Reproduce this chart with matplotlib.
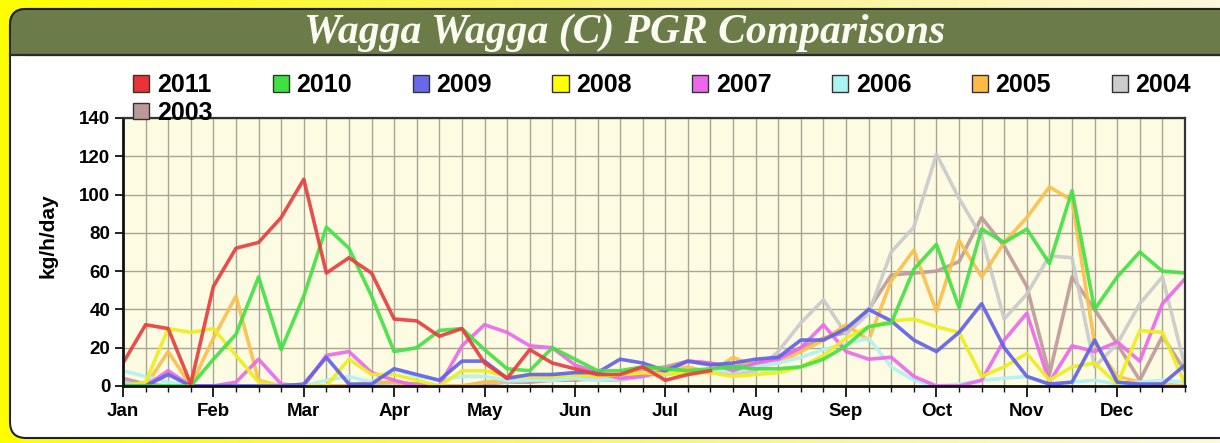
import matplotlib
matplotlib.use("Agg")
import matplotlib.pyplot as plt
from matplotlib.patches import FancyBboxPatch, Rectangle, Patch
from matplotlib.colors import LinearSegmentedColormap
import numpy as np

# === DATA ===
# 4 readings per month, Jan..Dec (48 points)
months = ["Jan", "Feb", "Mar", "Apr", "May", "Jun",
          "Jul", "Aug", "Sep", "Oct", "Nov", "Dec"]
years = ["2011", "2010", "2009", "2008", "2007", "2006", "2005", "2004", "2003"]

pgr_2011 = [12, 32, 30, 1, 52, 72, 75, 88, 108, 59, 67, 59,
            35, 34, 26, 30, 12, 4, 19, 12, 9, 6, 6, 10,
            3, 6, 8, None, None, None, None, None, None, None, None, None,
            None, None, None, None, None, None, None, None, None, None, None, None]
pgr_2010 = [0, 0, 0, 0, 14, 27, 57, 19, 47, 83, 72, 47,
            18, 20, 29, 30, 19, 9, 8, 20, 14, 8, 8, 10,
            9, 8, 9, 10, 9, 9, 10, 14, 21, 31, 33, 61,
            74, 41, 82, 75, 82, 64, 102, 40, 57, 70, 60, 59]
pgr_2009 = [0, 0, 6, 0, 0, 0, 0, 0, 1, 15, 1, 1,
            9, 6, 3, 13, 13, 4, 6, 6, 7, 7, 14, 12,
            8, 13, 11, 12, 14, 15, 24, 24, 30, 40, 34, 24,
            18, 28, 43, 20, 5, 1, 2, 24, 2, 1, 1, 11]
pgr_2008 = [0, 2, 30, 28, 30, 16, 2, 0, 0, 0, 14, 6,
            6, 3, 0, 8, 8, 5, 5, 5, 6, 5, 6, 7,
            6, 7, 7, 5, 6, 7, 10, 16, 25, 31, 34, 35,
            31, 28, 5, 10, 17, 3, 10, 12, 1, 29, 28, 1]
pgr_2007 = [0, 0, 8, 0, 0, 2, 14, 1, 0, 16, 18, 7,
            3, 0, 0, 21, 32, 28, 21, 20, 11, 7, 4, 5,
            8, 13, 12, 8, 12, 14, 20, 32, 18, 14, 15, 5,
            0, 0, 3, 24, 38, 2, 21, 18, 23, 13, 43, 56]
pgr_2006 = [8, 5, 2, 0, 0, 0, 0, 0, 0, 3, 5, 2,
            9, 5, 3, 5, 5, 3, 3, 3, 4, 3, 4, 5,
            6, 7, 8, 8, 10, 12, 15, 19, 22, 25, 10, 3,
            0, 1, 3, 4, 5, 1, 2, 3, 1, 2, 3, 2]
pgr_2005 = [0, 0, 18, 0, 25, 47, 3, 0, 0, 0, 0, 2,
            2, 0, 0, 0, 2, 3, 3, 3, 4, 5, 5, 6,
            8, 10, 7, 15, 10, 12, 18, 24, 32, 24, 55, 71,
            39, 76, 57, 75, 88, 104, 97, 22, 5, 2, 1, 0]
pgr_2004 = [2, 0, 0, 0, 0, 0, 0, 0, 0, 0, 0, 0,
            0, 0, 0, 0, 2, 2, 3, 4, 4, 3, 3, 5,
            6, 8, 7, 6, 8, 18, 33, 45, 27, 38, 70, 83,
            121, 98, 78, 35, 48, 68, 67, 10, 22, 43, 57, 10]
pgr_2003 = [4, 1, 0, 0, 0, 0, 0, 0, 0, 0, 0, 1,
            2, 1, 0, 0, 1, 2, 2, 3, 3, 4, 5, 8,
            10, 13, 12, 10, 12, 15, 20, 25, 28, 40, 58, 59,
            60, 65, 88, 73, 52, 6, 57, 40, 22, 3, 26, 8]

series = [pgr_2011, pgr_2010, pgr_2009, pgr_2008, pgr_2007,
          pgr_2006, pgr_2005, pgr_2004, pgr_2003]
line_colors = ["#e54040", "#44e044", "#6262e6", "#eded22", "#ea6aea",
               "#b2f2f2", "#f9c04c", "#cacaca", "#bf9a9a"]
box_colors = ["#e83434", "#40e040", "#6868e8", "#ffff00", "#ee66ee",
              "#aaf4f4", "#ffbb44", "#cccccc", "#bb9999"]

W, H = 1220, 443
fig = plt.figure(figsize=(W / 100, H / 100), dpi=100)

# === BACKGROUND / PANEL ===
bg = fig.add_axes([0, 0, 1, 1], zorder=0)
bg.set_xlim(0, W)
bg.set_ylim(H, 0)
bg.axis("off")
cmap = LinearSegmentedColormap.from_list("bgy", ["#ffff00", "#fbf27a", "#fdf9dc"])
bg.imshow(np.linspace(0, 1, 256)[None, :], cmap=cmap, extent=[0, W, H, 0], aspect="auto")

bg.add_patch(FancyBboxPatch((10, 9), 1260, 429, boxstyle="round,pad=0,rounding_size=16",
                            fc="white", ec="#222222", lw=1.5))
olive = "#6c7c48"
bg.add_patch(FancyBboxPatch((10, 9), 1260, 46, boxstyle="round,pad=0,rounding_size=16",
                            fc=olive, ec="#222222", lw=1.5))
bg.add_patch(Rectangle((11, 35), 1260, 20, fc=olive, ec="none"))
bg.plot([10, W], [55, 55], color="#2a2a2a", lw=1.6)
bg.text(625, 33, "Wagga Wagga (C) PGR Comparisons", color="#fbfbf2",
        family="Liberation Serif", weight="bold", style="italic",
        fontsize=30, ha="center", va="center")

# === PLOT ===
ax = fig.add_axes([123 / W, 1 - 386 / H, (1185 - 123) / W, (386 - 118) / H], zorder=2)
ax.set_facecolor("#fdfce3")
x = np.arange(48)
for yr, vals, col in reversed(list(zip(years, series, line_colors))):
    ax.plot(x, np.array(vals, dtype=float), color=col, lw=2.6, alpha=0.92,
            solid_joinstyle="round", label=yr)

ax.set_xlim(0, 47)
ax.set_ylim(0, 140)
ax.set_xticks(np.arange(0, 48, 4))
ax.set_xticklabels(months)
ax.set_xticks(x, minor=True)
ax.set_yticks(np.arange(0, 141, 20))
ax.grid(True, which="both", axis="x", color="#aaa591", lw=1)
ax.grid(True, which="major", axis="y", color="#aaa591", lw=1)
ax.set_axisbelow(True)

tick_font = dict(family="Liberation Sans", weight="bold", size=13.5)
for lab in ax.get_xticklabels() + ax.get_yticklabels():
    lab.set_fontproperties(tick_font)
ax.tick_params(axis="x", which="major", length=8, width=1.3, pad=4, color="#111111")
ax.tick_params(axis="x", which="minor", length=4, width=1, color="#111111")
ax.tick_params(axis="y", which="major", length=6, width=1.3, pad=3, color="#111111")
for side in ["left", "bottom"]:
    ax.spines[side].set_linewidth(2)
    ax.spines[side].set_color("#111111")
for side in ["top", "right"]:
    ax.spines[side].set_linewidth(1.6)
    ax.spines[side].set_color("#333333")

ax.set_ylabel("kg/h/day", family="Liberation Sans", weight="bold", fontsize=15)
ax.yaxis.set_label_coords(-0.062, 0.56)

# legend: column-major fill, so 2003 goes under 2011
order = [0, 8, 1, 2, 3, 4, 5, 6, 7]
handles = [Patch(fc=box_colors[i], ec="#333333", lw=1) for i in order]
labels = [years[i] for i in order]
ax.legend(handles, labels, loc="upper left", bbox_to_anchor=(133 / W, 1 - 73 / H),
          bbox_transform=fig.transFigure, ncol=8, frameon=False,
          prop=dict(family="Liberation Sans", weight="bold", size=18),
          handlelength=0.65, handleheight=0.65, handletextpad=0.3,
          columnspacing=2.42, labelspacing=0.15, borderpad=0, borderaxespad=0)

fig.savefig("out.png", dpi=100)
